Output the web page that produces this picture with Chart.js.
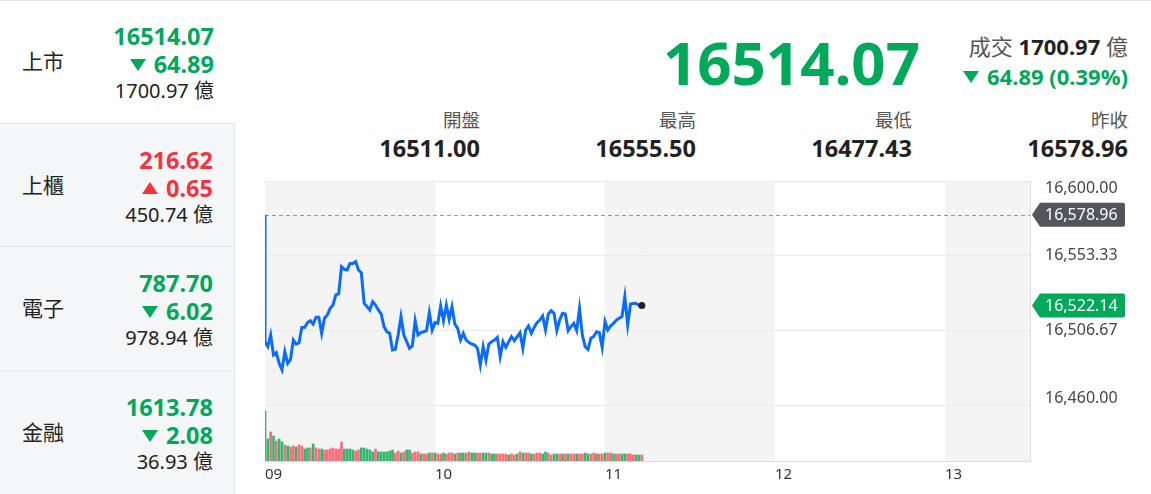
<!DOCTYPE html>
<html lang="zh-Hant">
<head>
<meta charset="utf-8">
<script src="https://cdn.jsdelivr.net/npm/chart.js@4.4.1/dist/chart.umd.min.js"></script>
<style>
  body { margin: 0; width: 1151px; height: 494px; overflow: hidden; background: #fff; position: relative;
         font-family: "Noto Sans", "Noto Sans CJK TC", sans-serif; color: #222; }
  .topline { position: absolute; left: 0; top: 0; width: 1151px; height: 1px; background: #e3e6ea; z-index: 2; }
  .cell { position: absolute; left: 0; width: 235px; height: 123px; background: #f5f6f8;
          border-right: 1px solid #e5e7eb; border-top: 1px solid #e5e7eb; box-sizing: border-box; }
  .cell.on { background: #fff; border: none; width: 240px; }
  .name { position: absolute; left: 22px; top: 0; line-height: 123px; font-size: 21px; }
  .v { position: absolute; right: 21px; white-space: nowrap; text-align: right; }
  .cell.on .v { right: 26px; }
  .v1 { top: 22px; font-size: 23.5px; line-height: 28px; font-weight: 700; }
  .v2 { top: 50px; font-size: 23.5px; line-height: 28px; font-weight: 700; }
  .v3 { top: 78px; font-size: 20px; line-height: 26px; }
  .dn { color: #00a85a; }
  .up { color: #f5333f; }
  .tri-dn { display: inline-block; width: 0; height: 0; border-left: 8px solid transparent; border-right: 8px solid transparent;
            border-top: 12px solid #00a85a; margin-right: 8px; vertical-align: 2px; }
  .tri-up { display: inline-block; width: 0; height: 0; border-left: 8px solid transparent; border-right: 8px solid transparent;
            border-bottom: 12px solid #f5333f; margin-right: 8px; vertical-align: 3px; }
  .big { position: absolute; right: 231px; top: 30px; font-size: 60px; line-height: 64px; font-weight: 700; color: #00a85a; }
  .deal { position: absolute; right: 23px; top: 32px; font-size: 22px; line-height: 28px; color: #555; white-space: nowrap; }
  .deal b { color: #222; }
  .chg { position: absolute; right: 23px; top: 62px; font-size: 22px; line-height: 28px; font-weight: 700; color: #00a85a; white-space: nowrap; }
  .stat { position: absolute; width: 200px; text-align: right; }
  .stat .k { position: absolute; right: 0; top: 106px; font-size: 18.5px; line-height: 28px; color: #555; }
  .stat .n { position: absolute; right: 0; top: 133px; font-size: 23.5px; line-height: 30px; font-weight: 700; color: #222; }
  #wrap { position: absolute; left: 236px; top: 170px; width: 915px; height: 324px; }
</style>
</head>
<body>
<div class="topline"></div>

<div class="cell on" style="top:0">
  <div class="name">上市</div>
  <div class="v v1 dn">16514.07</div>
  <div class="v v2 dn"><span class="tri-dn"></span>64.89</div>
  <div class="v v3">1700.97 億</div>
</div>
<div class="cell" style="top:123px">
  <div class="name">上櫃</div>
  <div class="v v1 up">216.62</div>
  <div class="v v2 up"><span class="tri-up"></span>0.65</div>
  <div class="v v3">450.74 億</div>
</div>
<div class="cell" style="top:246px">
  <div class="name">電子</div>
  <div class="v v1 dn">787.70</div>
  <div class="v v2 dn"><span class="tri-dn"></span>6.02</div>
  <div class="v v3">978.94 億</div>
</div>
<div class="cell" style="top:370px; height:124px">
  <div class="name">金融</div>
  <div class="v v1 dn">1613.78</div>
  <div class="v v2 dn"><span class="tri-dn"></span>2.08</div>
  <div class="v v3">36.93 億</div>
</div>

<div class="big">16514.07</div>
<div class="deal">成交 <b>1700.97</b> 億</div>
<div class="chg"><span class="tri-dn"></span>64.89 (0.39%)</div>

<div class="stat" style="left:280px"><div class="k">開盤</div><div class="n">16511.00</div></div>
<div class="stat" style="left:496px"><div class="k">最高</div><div class="n">16555.50</div></div>
<div class="stat" style="left:712px"><div class="k">最低</div><div class="n">16477.43</div></div>
<div class="stat" style="left:928px"><div class="k">昨收</div><div class="n">16578.96</div></div>

<div id="wrap"><canvas id="tick" width="915" height="324"></canvas></div>

<script>
// minute-by-minute index, 09:00 = 0
const hourTicks = [0, 60, 120, 180, 240];
const hourLabels = ["09", "10", "11", "12", "13"];
const sessionEnd = 270;
const shadedHours = [[0, 60], [120, 180], [240, 270]];

const priceTicks = [16460, 16506.67, 16553.33, 16600];
const prevClose = 16578.96;
const lastPrice = 16522.14;

// 09:00 - 09:43
const pricesEarly = [
  16499.6, 16496.5, 16503.8, 16491.3, 16492.7, 16486.0, 16482.0, 16493.3, 16486.0, 16488.5,
  16500.6, 16498.1, 16498.9, 16508.5, 16508.5, 16511.5, 16512.7, 16510.6, 16514.8, 16514.8,
  16504.8, 16514.2, 16516.3, 16520.4, 16522.5, 16528.8, 16529.4, 16546.5, 16544.8, 16544.4,
  16548.5, 16548.5, 16549.6, 16544.4, 16542.7, 16523.5, 16521.5, 16519.4, 16524.6, 16522.5,
  16519.4, 16516.9, 16509.0, 16505.8
];
// 09:44 - 10:27
const pricesMid = [
  16504.8, 16494.4, 16494.8, 16503.7, 16515.2, 16503.7, 16499.6, 16495.4, 16496.9, 16512.7,
  16503.7, 16505.2, 16505.8, 16506.5, 16517.7, 16506.9, 16511.5, 16511.0, 16521.9, 16512.7,
  16522.5, 16513.5, 16521.5, 16510.6, 16507.9, 16500.6, 16504.8, 16500.6, 16499.0, 16498.1,
  16497.5, 16495.4, 16485.0, 16496.5, 16488.1, 16498.1, 16499.6, 16500.6, 16502.3, 16490.2,
  16499.6, 16496.0, 16499.6, 16502.7
];
// 10:28 - 11:12
const pricesLate = [
  16500.2, 16502.7, 16505.2, 16495.4, 16506.9, 16509.4, 16504.8, 16508.5, 16511.5, 16513.1,
  16515.6, 16506.9, 16516.9, 16519.0, 16517.3, 16506.5, 16513.1, 16517.3, 16516.9, 16506.5,
  16509.0, 16511.0, 16506.5, 16520.4, 16503.7, 16496.5, 16494.8, 16501.7, 16502.7, 16505.8,
  16505.2, 16496.0, 16512.1, 16506.9, 16509.4, 16511.0, 16513.1, 16514.2, 16515.2, 16527.7,
  16510.0, 16523.1, 16523.5, 16523.5, 16522.14
];

// volume per minute (億)
const volEarly = [
  62.5, 27.5, 36.3, 31.3, 25.0, 27.5, 23.8, 20.0, 18.8, 17.5,
  18.8, 17.5, 20.0, 18.8, 15.0, 16.3, 16.3, 21.3, 16.3, 15.0,
  15.0, 13.8, 13.8, 15.0, 16.3, 15.0, 15.0, 23.8, 15.0, 15.0,
  15.0, 13.8, 12.5, 13.8, 16.3, 16.3, 15.0, 13.8, 11.3, 15.0,
  11.3, 11.3, 11.3, 11.3, 12.5
];
const volMid = [
  13.8, 10.0, 12.5, 10.0, 11.3, 13.8, 13.8, 10.0, 11.3, 11.3,
  8.8, 8.8, 8.8, 10.0, 10.0, 10.0, 8.8, 8.8, 10.0, 8.8,
  10.0, 10.0, 8.8, 10.0, 10.0, 10.0, 10.0, 11.3, 10.0, 10.0,
  10.0, 10.0, 10.0, 10.0, 10.0, 8.8, 8.8, 8.8, 8.8, 8.8,
  8.8, 7.5, 8.8, 7.5, 8.8
];
const volLate = [
  11.3, 10.0, 10.0, 10.0, 8.8, 8.8, 10.0, 10.0, 8.8, 11.3,
  10.0, 7.5, 8.8, 8.8, 8.8, 8.8, 8.8, 8.8, 8.8, 8.8,
  8.8, 8.8, 8.8, 10.0, 8.8, 8.8, 10.0, 8.8, 8.8, 8.8,
  10.0, 10.0, 10.0, 8.8, 8.8, 8.8, 8.8, 8.8, 8.8, 8.8,
  7.5, 7.5, 7.5, 7.5
];
// r = up tick (red), g = down tick (green)
const volSide =
  "ggrgrggrgr" + "rgrrggrgrr" + "grrrrrrrgg" + "ggrrgggggr" + "ggggg" +
  "grrgrggrrr" + "grrgrgrrgr" + "rrgrggrrgg" + "rrggrggrrr" + "rgrrg" +
  "rgrrgrrrgg" + "rrggrgrgrr" + "grrggrrgrr" + "grrgrrggrr" + "rggr";

const prices = pricesEarly.concat(pricesMid, pricesLate);
const volumes = volEarly.concat(volMid, volLate);

const GREEN = "#00a85a";
const fmt = (v) => v.toLocaleString("en-US", { minimumFractionDigits: 2, maximumFractionDigits: 2 });

const linePoints = [{ x: 0, y: prevClose }].concat(prices.map((v, i) => ({ x: i, y: v })));
const barPoints = volumes.map((v, i) => ({ x: i, y: v }));

const backdrop = {
  id: "backdrop",
  beforeDraw(chart) {
    const { ctx, chartArea } = chart;
    const xs = chart.scales.x;
    ctx.save();
    ctx.fillStyle = "#f4f4f4";
    shadedHours.forEach(([a, b]) => {
      const x0 = xs.getPixelForValue(a);
      const x1 = xs.getPixelForValue(b);
      ctx.fillRect(x0, chartArea.top, x1 - x0, chartArea.bottom - chartArea.top);
    });
    ctx.restore();
  },
  beforeDatasetsDraw(chart) {
    const { ctx, chartArea } = chart;
    const y = Math.round(chart.scales.y.getPixelForValue(prevClose)) + 0.5;
    ctx.save();
    ctx.strokeStyle = "#9a9a9a";
    ctx.lineWidth = 1;
    ctx.setLineDash([4, 3]);
    ctx.beginPath();
    ctx.moveTo(chartArea.left, y);
    ctx.lineTo(chartArea.right, y);
    ctx.stroke();
    ctx.restore();
  },
  afterDraw(chart) {
    const { ctx, chartArea } = chart;
    const ys = chart.scales.y;
    const left = chartArea.right;
    ctx.save();
    ctx.font = "16px 'Noto Sans', sans-serif";
    ctx.textBaseline = "middle";
    ctx.textAlign = "left";
    ctx.fillStyle = "#454545";
    priceTicks.forEach((v) => {
      let y = ys.getPixelForValue(v);
      y = Math.min(Math.max(y, ys.top + 7), ys.bottom - 7);
      ctx.fillText(fmt(v), left + 15, y);
    });
    const tag = (value, color) => {
      const y = ys.getPixelForValue(value);
      const h = 24;
      ctx.fillStyle = color;
      ctx.beginPath();
      ctx.moveTo(left + 2, y);
      ctx.lineTo(left + 10, y - h / 2);
      ctx.lineTo(left + 93, y - h / 2);
      ctx.quadraticCurveTo(left + 95, y - h / 2, left + 95, y - h / 2 + 2);
      ctx.lineTo(left + 95, y + h / 2 - 2);
      ctx.quadraticCurveTo(left + 95, y + h / 2, left + 93, y + h / 2);
      ctx.lineTo(left + 10, y + h / 2);
      ctx.closePath();
      ctx.fill();
      ctx.fillStyle = "#fff";
      ctx.fillText(fmt(value), left + 15, y + 1);
    };
    tag(prevClose, "#51565d");
    tag(lastPrice, GREEN);
    ctx.restore();
  }
};

Chart.defaults.font.family = "'Noto Sans', sans-serif";

new Chart(document.getElementById("tick"), {
  data: {
    datasets: [
      {
        type: "line",
        data: linePoints,
        yAxisID: "y",
        borderColor: "#0a6cff",
        borderWidth: 3,
        pointRadius: 0,
        tension: 0,
        order: 1,
      },
      {
        type: "scatter",
        data: [{ x: prices.length, y: lastPrice }],
        yAxisID: "y",
        pointRadius: 3.5,
        backgroundColor: "#222",
        borderWidth: 0,
        order: 0,
      },
      {
        type: "bar",
        data: barPoints,
        yAxisID: "vol",
        barThickness: 2,
        backgroundColor: volumes.map((v, i) => (volSide[i] === "r" ? "#f86f7a" : "#34b671")),
        order: 2,
      },
    ],
  },
  options: {
    responsive: false,
    devicePixelRatio: 1,
    animation: false,
    events: [],
    layout: { padding: { left: 29, top: 11, right: 0, bottom: 0 } },
    plugins: { legend: { display: false }, tooltip: { enabled: false } },
    scales: {
      x: {
        type: "linear",
        offset: false,
        min: 0,
        max: sessionEnd,
        afterBuildTicks: (scale) => { scale.ticks = hourTicks.map((v) => ({ value: v })); },
        afterFit: (scale) => { scale.height = 33; },
        grid: { display: false, offset: false, drawTicks: false },
        border: { display: true, color: "#dcdce2" },
        ticks: {
          align: "start",
          padding: 5,
          maxRotation: 0,
          autoSkip: false,
          color: "#333",
          font: { size: 15 },
          callback: (value, index) => hourLabels[index],
        },
      },
      y: {
        position: "right",
        stack: "main",
        stackWeight: 4,
        min: 16460,
        max: 16600,
        afterBuildTicks: (scale) => { scale.ticks = priceTicks.map((v) => ({ value: v })); },
        afterFit: (scale) => { scale.width = 121; },
        grid: { color: "#e9e9e9", drawTicks: false },
        border: { display: true, color: "#dcdce2" },
        ticks: { display: false },
      },
      vol: {
        position: "right",
        stack: "main",
        stackWeight: 1,
        min: 0,
        max: 70,
        afterFit: (scale) => { scale.width = 121; },
        grid: { display: false },
        border: { display: true, color: "#dcdce2" },
        ticks: { display: false },
      },
    },
  },
  plugins: [backdrop],
});
</script>
</body>
</html>
